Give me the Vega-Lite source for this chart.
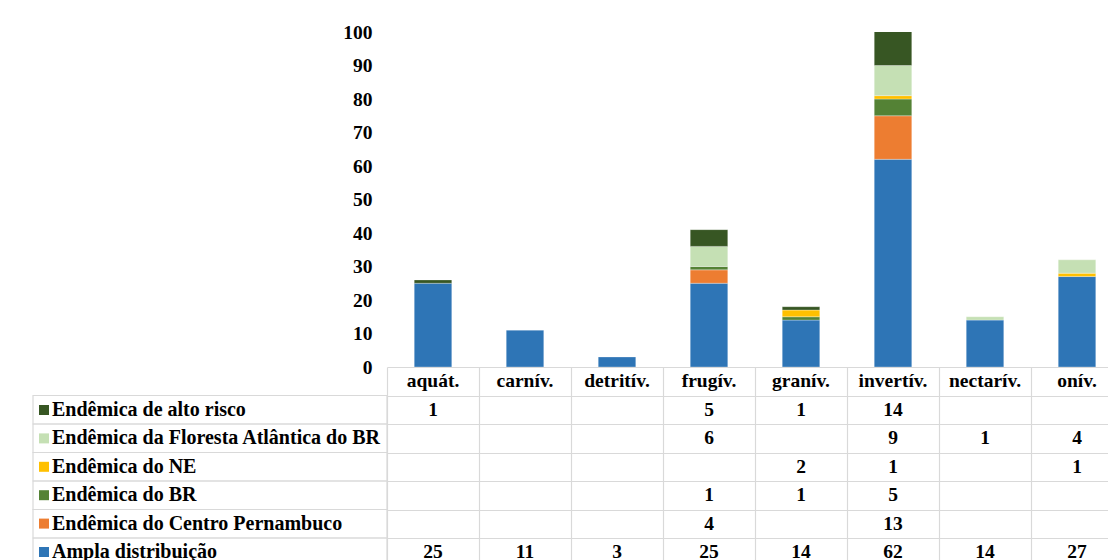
{
  "$schema": "https://vega.github.io/schema/vega-lite/v6.json",
  "padding": {"left": 32, "top": 22, "right": 0, "bottom": 0},
  "background": "white",
  "config": {
    "view": {"stroke": null},
    "font": "Liberation Serif",
    "legend": {"labelFont": "Liberation Serif", "labelFontWeight": "bold", "labelFontSize": 20, "labelColor": "black", "labelLimit": 400}
  },
  "datasets": {
    "tabela": [
      {"cat": "aquát.", "serie": "Ampla distribuição", "nivel": 1, "n": 25},
      {"cat": "aquát.", "serie": "Endêmica de alto risco", "nivel": 6, "n": 1},
      {"cat": "carnív.", "serie": "Ampla distribuição", "nivel": 1, "n": 11},
      {"cat": "detritív.", "serie": "Ampla distribuição", "nivel": 1, "n": 3},
      {"cat": "frugív.", "serie": "Ampla distribuição", "nivel": 1, "n": 25},
      {"cat": "frugív.", "serie": "Endêmica do Centro Pernambuco", "nivel": 2, "n": 4},
      {"cat": "frugív.", "serie": "Endêmica do BR", "nivel": 3, "n": 1},
      {"cat": "frugív.", "serie": "Endêmica da Floresta Atlântica do BR", "nivel": 5, "n": 6},
      {"cat": "frugív.", "serie": "Endêmica de alto risco", "nivel": 6, "n": 5},
      {"cat": "granív.", "serie": "Ampla distribuição", "nivel": 1, "n": 14},
      {"cat": "granív.", "serie": "Endêmica do BR", "nivel": 3, "n": 1},
      {"cat": "granív.", "serie": "Endêmica do NE", "nivel": 4, "n": 2},
      {"cat": "granív.", "serie": "Endêmica de alto risco", "nivel": 6, "n": 1},
      {"cat": "invertív.", "serie": "Ampla distribuição", "nivel": 1, "n": 62},
      {"cat": "invertív.", "serie": "Endêmica do Centro Pernambuco", "nivel": 2, "n": 13},
      {"cat": "invertív.", "serie": "Endêmica do BR", "nivel": 3, "n": 5},
      {"cat": "invertív.", "serie": "Endêmica do NE", "nivel": 4, "n": 1},
      {"cat": "invertív.", "serie": "Endêmica da Floresta Atlântica do BR", "nivel": 5, "n": 9},
      {"cat": "invertív.", "serie": "Endêmica de alto risco", "nivel": 6, "n": 14},
      {"cat": "nectarív.", "serie": "Ampla distribuição", "nivel": 1, "n": 14},
      {"cat": "nectarív.", "serie": "Endêmica da Floresta Atlântica do BR", "nivel": 5, "n": 1},
      {"cat": "onív.", "serie": "Ampla distribuição", "nivel": 1, "n": 27},
      {"cat": "onív.", "serie": "Endêmica do NE", "nivel": 4, "n": 1},
      {"cat": "onív.", "serie": "Endêmica da Floresta Atlântica do BR", "nivel": 5, "n": 4}
    ],
    "cats": [
      {"cat": "aquát."}, {"cat": "carnív."}, {"cat": "detritív."}, {"cat": "frugív."},
      {"cat": "granív."}, {"cat": "invertív."}, {"cat": "nectarív."}, {"cat": "onív."}
    ],
    "series": [
      {"serie": "Endêmica de alto risco"},
      {"serie": "Endêmica da Floresta Atlântica do BR"},
      {"serie": "Endêmica do NE"},
      {"serie": "Endêmica do BR"},
      {"serie": "Endêmica do Centro Pernambuco"},
      {"serie": "Ampla distribuição"}
    ]
  },
  "columns": 2,
  "spacing": 0,
  "bounds": "flush",
  "resolve": {"scale": {"x": "independent", "y": "independent", "color": "shared"}},
  "concat": [
    {
      "width": 354, "height": 335,
      "data": {"values": []},
      "mark": "point",
      "encoding": {}
    },
    {
      "width": 736, "height": 335,
      "data": {"name": "tabela"},
      "mark": {"type": "bar", "clip": true, "stroke": "white", "strokeWidth": 0.5, "strokeOpacity": 0.6},
      "encoding": {
        "x": {
          "field": "cat", "type": "nominal",
          "sort": ["aquát.", "carnív.", "detritív.", "frugív.", "granív.", "invertív.", "nectarív.", "onív."],
          "scale": {"paddingInner": 0.592, "paddingOuter": 0.296},
          "axis": null
        },
        "y": {
          "field": "n", "type": "quantitative", "stack": "zero",
          "scale": {"domain": [0, 100], "nice": false},
          "axis": {
            "values": [0, 10, 20, 30, 40, 50, 60, 70, 80, 90, 100],
            "domain": false, "ticks": false, "grid": false, "title": null,
            "labelPadding": 15, "labelFont": "Liberation Serif", "labelFontWeight": "bold",
            "labelFontSize": 19.5, "labelColor": "black"
          }
        },
        "color": {
          "field": "serie", "type": "nominal",
          "scale": {
            "domain": ["Endêmica de alto risco", "Endêmica da Floresta Atlântica do BR", "Endêmica do NE", "Endêmica do BR", "Endêmica do Centro Pernambuco", "Ampla distribuição"],
            "range": ["#375623", "#C5E0B4", "#FFC000", "#548235", "#ED7D31", "#2E75B6"]
          },
          "legend": {
            "orient": "none", "legendX": 1, "legendY": 368, "title": null,
            "symbolType": "square", "symbolSize": 100, "symbolStrokeWidth": 0,
            "labelFont": "Liberation Serif", "labelFontWeight": "bold", "labelFontSize": 20,
            "labelColor": "black", "labelLimit": 400, "labelOffset": -2, "rowPadding": 8.4
          }
        },
        "order": {"field": "nivel", "type": "quantitative"}
      }
    },
    {
      "width": 354, "height": 199.5,
      "data": {"name": "series"},
      "mark": {"type": "rect", "fill": "white", "fillOpacity": 0, "stroke": "#d9d9d9", "strokeWidth": 1.2},
      "encoding": {
        "y": {
          "field": "serie", "type": "nominal",
          "scale": {
            "domain": ["cab", "Endêmica de alto risco", "Endêmica da Floresta Atlântica do BR", "Endêmica do NE", "Endêmica do BR", "Endêmica do Centro Pernambuco", "Ampla distribuição"],
            "paddingInner": 0, "paddingOuter": 0
          },
          "axis": null
        }
      }
    },
    {
      "width": 736, "height": 199.5,
      "layer": [
        {
          "data": {"name": "cats"},
          "mark": {"type": "text", "font": "Liberation Serif", "fontWeight": "bold", "fontSize": 19.5, "color": "black"},
          "encoding": {
            "x": {
              "field": "cat", "type": "nominal",
              "sort": ["aquát.", "carnív.", "detritív.", "frugív.", "granív.", "invertív.", "nectarív.", "onív."],
              "scale": {"paddingInner": 0, "paddingOuter": 0},
              "axis": {"grid": true, "tickBand": "extent", "gridColor": "#d9d9d9", "gridWidth": 1.2, "labels": false, "ticks": false, "domain": false, "title": null}
            },
            "y": {
              "datum": "cab", "type": "nominal",
              "scale": {
                "domain": ["cab", "Endêmica de alto risco", "Endêmica da Floresta Atlântica do BR", "Endêmica do NE", "Endêmica do BR", "Endêmica do Centro Pernambuco", "Ampla distribuição"],
                "paddingInner": 0, "paddingOuter": 0
              },
              "axis": {"grid": true, "tickBand": "extent", "gridColor": "#d9d9d9", "gridWidth": 1.2, "labels": false, "ticks": false, "domain": false, "title": null}
            },
            "text": {"field": "cat"}
          }
        },
        {
          "data": {"name": "tabela"},
          "mark": {"type": "text", "font": "Liberation Serif", "fontWeight": "bold", "fontSize": 19.5, "color": "black"},
          "encoding": {
            "x": {"field": "cat", "type": "nominal", "sort": ["aquát.", "carnív.", "detritív.", "frugív.", "granív.", "invertív.", "nectarív.", "onív."]},
            "y": {"field": "serie", "type": "nominal"},
            "text": {"field": "n", "type": "quantitative"}
          }
        }
      ]
    }
  ]
}
